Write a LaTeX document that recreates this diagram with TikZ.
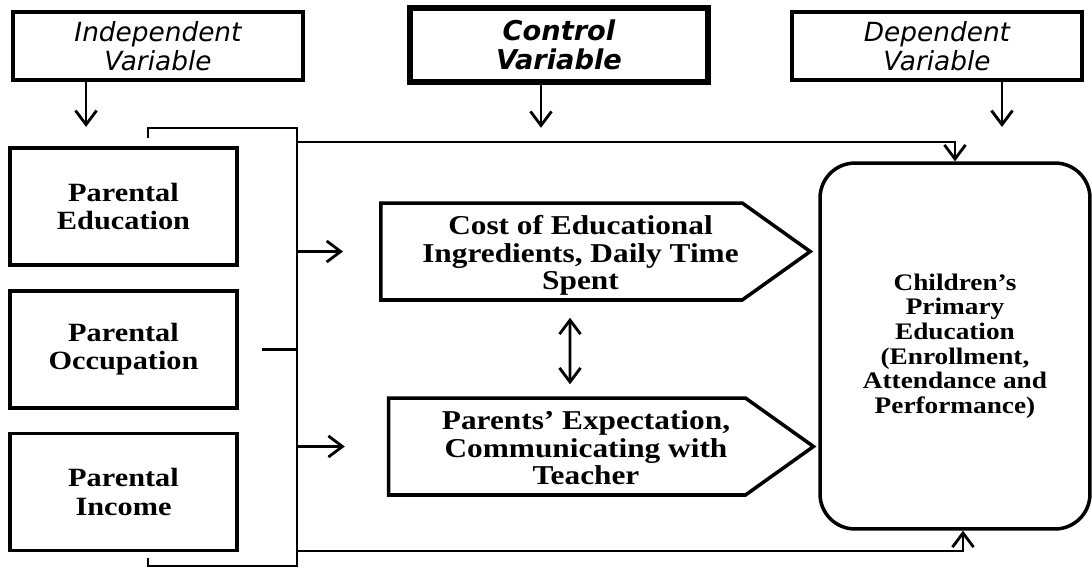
\documentclass[tikz,border=0pt]{standalone}
\usepackage{fontspec}
\setmainfont{Liberation Serif}[FakeStretch=1.15]
\newfontfamily\headfont{DejaVu Sans}
\usetikzlibrary{arrows,arrows.meta,shapes.symbols}

\newcommand{\padtext}[1]{\begin{tabular}{@{\hspace{0.76cm}}c@{}}\rule{0pt}{16.8pt}#1\end{tabular}}

\begin{document}
\begin{tikzpicture}[x=0.02cm,y=-0.02cm,line width=1.6pt,>={Straight Barb[length=8pt,width=12pt]}]
\tikzstyle{every node}=[inner sep=2pt]
\tikzstyle{varbox}=[draw,rectangle,line width=2.2pt,minimum width=5.8cm,minimum height=1.36cm,align=center,font=\headfont\itshape\fontsize{15}{16.5}\selectfont]
\tikzstyle{factor}=[draw,rectangle,line width=2.2pt,minimum width=4.54cm,minimum height=2.34cm,align=center,font=\bfseries\fontsize{15}{16}\selectfont]
\tikzstyle{channel}=[draw,signal,signal to=east,signal pointer angle=71,line width=2pt,inner ysep=0pt,minimum width=8.5cm,minimum height=1.94cm,font=\bfseries\fontsize{15.5}{15.6}\selectfont]
\useasboundingbox (0,0) rectangle (1092,569);
% variable headings
\draw (158,46) node (indep) [varbox] {Independent\\Variable};
\draw (559,45) node (contr) [varbox,line width=3.2pt,minimum width=5.96cm,minimum height=1.48cm,font=\headfont\bfseries\itshape\fontsize{15.5}{16.5}\selectfont] {Control\\Variable};
\draw (937,46) node (dep) [varbox] {Dependent\\Variable};
% parental factors
\draw (123.5,206.5) node (educ) [factor] {Parental\\Education};
\draw (123.5,349.5) node (occup) [factor] {Parental\\Occupation};
\draw (123.5,492) node (income) [factor] {Parental\\Income};
% control factors
\draw (561.5,251.5) node (cost) [channel] {\padtext{Cost of Educational\\Ingredients, Daily Time\\Spent}};
\draw (567,446.5) node (expect) [channel] {\padtext{Parents' Expectation,\\Communicating with\\Teacher}};
% outcome
\draw (955,346) node (child) [draw,rectangle,rounded corners=0.7cm,line width=2pt,minimum width=5.4cm,minimum height=7.32cm,align=center,font=\bfseries\fontsize{13.5}{14}\selectfont] {Children's\\Primary\\Education\\(Enrollment,\\Attendance and\\Performance)};
\coordinate (bus) at (297,128);
\coordinate (busend) at (297,566);
% heading arrows
\draw[->] ([xshift=-1.44cm]indep.south) -- ++(0,45);
\draw[->] ([xshift=-0.36cm]contr.south) -- ++(0,43);
\draw[->] ([xshift=1.3cm]dep.south) -- ++(0,45);
% bracket
\draw (148,138) -- (148,128) -- (bus) -- (busend) -- (148,566) -- (148,558);
\draw ([xshift=0.46cm]occup.east) -- (occup.east -| bus);
\draw[->] (297,142) -| (child.north);
\draw[->] (297,551) -| ([xshift=0.16cm]child.south);
\draw[->,shorten >=0.72cm] (cost.west -| bus) -- (cost.west);
\draw[->,shorten >=0.84cm] (expect.west -| bus) -- (expect.west);
\draw[<->,shorten <=0.32cm,shorten >=0.24cm] ([xshift=0.17cm]cost.south) -- ([xshift=0.06cm]expect.north);
\end{tikzpicture}
\end{document}
